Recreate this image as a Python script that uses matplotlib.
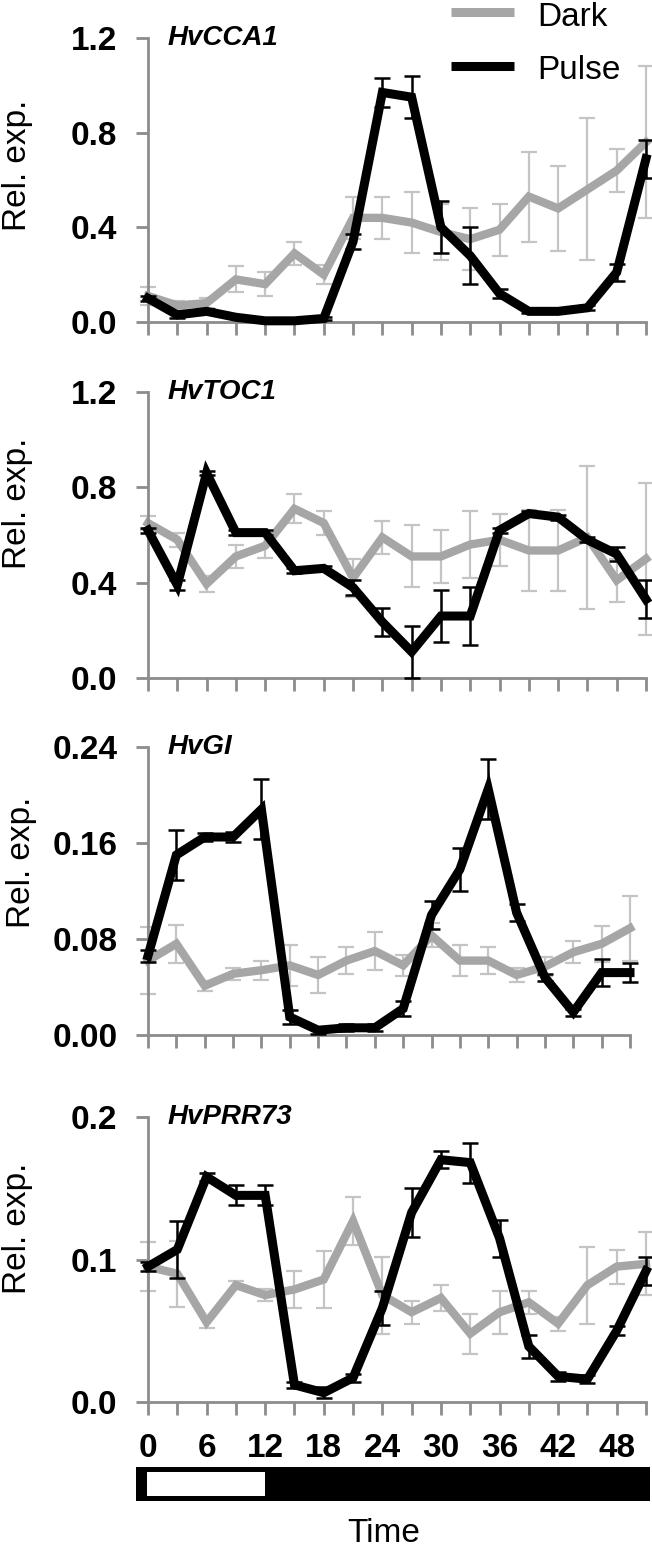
import matplotlib
matplotlib.use("Agg")
import matplotlib.pyplot as plt
from matplotlib.lines import Line2D
from matplotlib.patches import Rectangle

plt.rcParams['font.family'] = ['Liberation Sans', 'DejaVu Sans']

# time points (h)
hours = [0, 3, 6, 9, 12, 15, 18, 21, 24, 27, 30, 33, 36, 39, 42, 45, 48, 51]

genes = ['HvCCA1', 'HvTOC1', 'HvGI', 'HvPRR73']
series_names = ['Dark', 'Pulse']

cca1_dark = [0.11, 0.07, 0.08, 0.18, 0.16, 0.29, 0.20, 0.44, 0.44, 0.42, 0.38, 0.35, 0.39, 0.53, 0.48, 0.56, 0.64, 0.76]
cca1_dark_err = [0.04, 0.02, 0.02, 0.055, 0.05, 0.05, 0.04, 0.09, 0.09, 0.13, 0.12, 0.13, 0.11, 0.19, 0.18, 0.30, 0.09, 0.32]
cca1_pulse = [0.10, 0.03, 0.045, 0.02, 0.005, 0.005, 0.015, 0.34, 0.97, 0.95, 0.40, 0.28, 0.12, 0.045, 0.045, 0.06, 0.21, 0.69]
cca1_pulse_err = [0.01, 0.015, 0.01, 0.005, 0.005, 0.005, 0.005, 0.03, 0.06, 0.09, 0.11, 0.12, 0.02, 0.005, 0.005, 0.01, 0.035, 0.08]

toc1_dark = [0.65, 0.58, 0.395, 0.51, 0.555, 0.71, 0.65, 0.42, 0.59, 0.51, 0.51, 0.56, 0.58, 0.535, 0.535, 0.59, 0.41, 0.50]
toc1_dark_err = [0.03, 0.03, 0.035, 0.05, 0.05, 0.06, 0.05, 0.08, 0.07, 0.13, 0.11, 0.14, 0.11, 0.17, 0.17, 0.30, 0.09, 0.32]
toc1_pulse = [0.62, 0.39, 0.86, 0.61, 0.61, 0.45, 0.46, 0.38, 0.235, 0.11, 0.26, 0.26, 0.62, 0.69, 0.675, 0.58, 0.52, 0.33]
toc1_pulse_err = [0.01, 0.02, 0.01, 0.01, 0.01, 0.01, 0.01, 0.03, 0.06, 0.11, 0.11, 0.12, 0.01, 0.01, 0.01, 0.01, 0.03, 0.08]

gi_dark = [0.062, 0.076, 0.041, 0.051, 0.054, 0.058, 0.050, 0.062, 0.070, 0.058, 0.083, 0.062, 0.062, 0.050, 0.057, 0.069, 0.076, 0.089]
gi_dark_err = [0.028, 0.016, 0.004, 0.005, 0.008, 0.017, 0.015, 0.011, 0.016, 0.009, 0.010, 0.013, 0.011, 0.006, 0.008, 0.009, 0.015, 0.027]
gi_pulse = [0.066, 0.150, 0.165, 0.165, 0.188, 0.015, 0.004, 0.006, 0.006, 0.022, 0.100, 0.138, 0.205, 0.102, 0.048, 0.019, 0.052, 0.052]
gi_pulse_err = [0.005, 0.021, 0.003, 0.004, 0.025, 0.006, 0.003, 0.003, 0.003, 0.006, 0.012, 0.018, 0.025, 0.007, 0.003, 0.003, 0.011, 0.008]

prr73_dark = [0.095, 0.090, 0.056, 0.082, 0.075, 0.079, 0.086, 0.127, 0.075, 0.063, 0.073, 0.048, 0.063, 0.070, 0.055, 0.082, 0.095, 0.097]
prr73_dark_err = [0.017, 0.023, 0.004, 0.003, 0.004, 0.013, 0.020, 0.017, 0.027, 0.008, 0.009, 0.014, 0.015, 0.008, 0.005, 0.027, 0.012, 0.022]
prr73_pulse = [0.095, 0.107, 0.158, 0.145, 0.145, 0.012, 0.0065, 0.017, 0.066, 0.133, 0.170, 0.168, 0.115, 0.039, 0.018, 0.016, 0.050, 0.092]
prr73_pulse_err = [0.003, 0.020, 0.003, 0.007, 0.007, 0.002, 0.004, 0.003, 0.012, 0.017, 0.006, 0.014, 0.013, 0.008, 0.003, 0.003, 0.003, 0.010]

yticks = [[0.0, 0.4, 0.8, 1.2], [0.0, 0.4, 0.8, 1.2], [0.00, 0.08, 0.16, 0.24], [0.0, 0.1, 0.2]]
yfmt = ['{:.1f}', '{:.1f}', '{:.2f}', '{:.1f}']
xlabels = ['0', '6', '12', '18', '24', '30', '36', '42', '48']
light_period = (0, 12)

dark_data = [(cca1_dark, cca1_dark_err), (toc1_dark, toc1_dark_err), (gi_dark, gi_dark_err), (prr73_dark, prr73_dark_err)]
pulse_data = [(cca1_pulse, cca1_pulse_err), (toc1_pulse, toc1_pulse_err), (gi_pulse, gi_pulse_err), (prr73_pulse, prr73_pulse_err)]

GRAY = '#a6a6a6'
GRAY_ERR = '#c4c4c4'
SPINE = '#8c8c8c'

W, H = 652, 1551
fig = plt.figure(figsize=(W / 100, H / 100), dpi=100)

# panel boxes in pixels: (left, top, right, bottom)
boxes = [(148, 38, 646, 322), (148, 392, 646, 678), (148, 747, 630, 1035), (148, 1117, 646, 1402)]
ylab_y = [0.55, 0.61, 0.60, 0.61]

axes = []
for i, (l, t, r, b) in enumerate(boxes):
    ax = fig.add_axes([l / W, 1 - b / H, (r - l) / W, (b - t) / H])
    axes.append(ax)
    d, de = dark_data[i]
    p, pe = pulse_data[i]
    ax.errorbar(hours, d, yerr=de, fmt='none', ecolor=GRAY_ERR, elinewidth=1.6,
                capsize=6, capthick=1.6, zorder=1, clip_on=False)
    ax.plot(hours, d, color=GRAY, lw=6, solid_joinstyle='miter', zorder=2, clip_on=False)
    ax.errorbar(hours, p, yerr=pe, fmt='none', ecolor='black', elinewidth=1.8,
                capsize=6, capthick=1.8, zorder=3, clip_on=False)
    ax.plot(hours, p, color='black', lw=6.5, solid_joinstyle='miter', zorder=4, clip_on=False)

    ax.set_xlim(hours[0], hours[-1])
    ax.set_ylim(yticks[i][0], yticks[i][-1])
    ax.set_yticks(yticks[i])
    ax.set_yticklabels([yfmt[i].format(v) for v in yticks[i]], fontsize=24, fontweight='bold')
    ax.set_xticks(hours)
    if i == 3:
        ax.set_xticklabels([xlabels[k // 2] if k % 2 == 0 else '' for k in range(len(hours))],
                           fontsize=24, fontweight='bold')
    else:
        ax.set_xticklabels([])
    for s in ['top', 'right']:
        ax.spines[s].set_visible(False)
    for s in ['left', 'bottom']:
        ax.spines[s].set_color(SPINE)
        ax.spines[s].set_linewidth(2)
    ax.tick_params(axis='x', direction='out', length=9, width=2, color=SPINE, pad=13)
    ax.tick_params(axis='y', direction='out', length=9, width=2, color=SPINE, pad=13)
    ax.set_facecolor('none')
    ax.set_ylabel('Rel. exp.', fontsize=24)
    ax.yaxis.set_label_coords(-0.23, ylab_y[i])
    ax.text(0.04, 1.0, genes[i], transform=ax.transAxes, fontsize=20,
            fontweight='bold', fontstyle='italic', va='center', ha='left')

# light / dark bar
px_per_h = (646 - 148) / (hours[-1] - hours[0])
bar = fig.add_axes([136 / W, 1 - 1501 / H, (650 - 136) / W, 34 / H])
bar.set_xlim(hours[0] - 12 / px_per_h, hours[-1] + 4 / px_per_h)
bar.set_ylim(0, 1)
bar.set_facecolor('black')
bar.add_patch(Rectangle((light_period[0] - 1 / px_per_h, 5 / 34), light_period[1] - light_period[0] + 1 / px_per_h,
                        24 / 34, facecolor='white', edgecolor='none'))
bar.set_xticks([])
bar.set_yticks([])
for s in bar.spines.values():
    s.set_visible(False)

fig.text(384 / W, 1 - 1542 / H, 'Time', fontsize=24, ha='center', va='baseline')

# legend
leg_colors = [GRAY, 'black']
leg_lw = [6.5, 6.5]
leg_line_y = [12, 66]
leg_text_y = [26, 79]
for k, name in enumerate(series_names):
    fig.add_artist(Line2D([451 / W, 514 / W], [1 - leg_line_y[k] / H] * 2,
                          color=leg_colors[k], lw=leg_lw[k], solid_capstyle='butt'))
    fig.text(537 / W, 1 - leg_text_y[k] / H, name, fontsize=24, va='baseline', ha='left')

fig.savefig('out.png', dpi=100)
